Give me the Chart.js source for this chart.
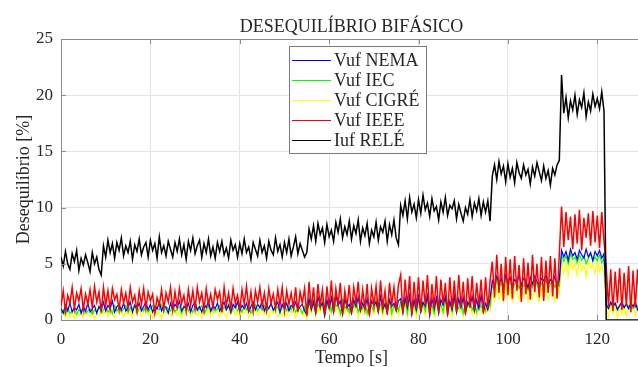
<!DOCTYPE html>
<html>
<head>
<meta charset="utf-8">
<script src="https://cdn.jsdelivr.net/npm/chart.js@4/dist/chart.umd.min.js"></script>
<style>
  html, body { margin: 0; padding: 0; background: #fff; overflow: hidden; }
  canvas { display: block; }
</style>
</head>
<body>
<canvas id="chart" width="642" height="367"></canvas>
<script>
// amostragem de 0,5 s, de 0 a 130 s (10 valores por linha = 5 s)
const STEP = 0.5;
const X_MAX = 130;
const xTicks = [0, 20, 40, 60, 80, 100, 120];
const yTicks = [0, 5, 10, 15, 20, 25];
const labels = ['Vuf NEMA', 'Vuf IEC', 'Vuf CIGRÉ', 'Vuf IEEE', 'Iuf RELÉ'];

const vufNema = [
  1.0, 0.6, 1.3, 0.8, 1.5, 0.7, 1.1, 0.9, 1.4, 0.6,
  1.2, 0.8, 1.5, 0.7, 1.0, 1.3, 0.6, 1.2, 0.9, 1.6,
  0.8, 1.3, 1.0, 1.7, 0.7, 1.2, 1.4, 0.9, 1.5, 0.8,
  1.1, 1.6, 0.7, 1.3, 1.0, 1.5, 0.8, 1.2, 1.6, 0.9,
  1.4, 0.7, 1.2, 1.0, 1.6, 0.8, 1.3, 1.1, 0.6, 1.5,
  0.9, 1.4, 1.1, 1.7, 0.8, 1.2, 1.0, 1.5, 0.7, 1.3,
  1.6, 0.9, 1.2, 0.7, 1.4, 1.1, 1.7, 0.8, 1.3, 1.0,
  1.5, 0.8, 1.2, 1.6, 0.9, 1.3, 0.7, 1.4, 1.1, 1.6,
  0.8, 1.3, 1.0, 1.5, 0.7, 1.2, 1.6, 0.9, 1.4, 1.1,
  1.7, 0.8, 1.3, 1.0, 1.5, 0.9, 1.2, 1.6, 0.7, 1.4,
  1.0, 1.5, 0.8, 1.3, 1.1, 1.6, 0.9, 1.2, 1.4, 0.8,
  0.5, 1.9, 0.9, 1.6, 0.6, 2.1, 1.2, 1.5, 0.4, 1.8,
  1.0, 2.0, 0.7, 2.2, 1.3, 1.7, 0.5, 1.9, 1.1, 1.4,
  0.6, 1.8, 1.2, 2.0, 0.8, 1.5, 1.0, 1.9, 0.5, 1.7,
  1.3, 1.6, 0.7, 2.1, 1.0, 1.4, 0.6, 1.8, 1.2, 1.5,
  0.8, 1.7, 1.9, 0.6, 2.0, 1.1, 2.2, 0.5, 1.8, 0.9,
  2.1, 0.7, 1.6, 1.2, 2.2, 0.4, 1.9, 1.0, 2.0, 0.6,
  1.8, 1.3, 2.1, 0.5, 1.7, 0.9, 2.2, 0.7, 1.9, 1.1,
  2.0, 0.6, 1.6, 1.2, 2.1, 0.8, 1.8, 1.0, 2.2, 0.7,
  1.5, 0.9, 1.9, 3.5, 3.0, 3.9, 3.2, 3.7, 2.9, 4.0,
  3.3, 3.8, 3.0, 3.6, 3.4, 4.0, 3.1, 3.7, 3.5, 2.9,
  3.8, 3.2, 3.9, 3.4, 3.0, 3.7, 3.5, 4.0, 3.1, 3.6,
  3.3, 3.9, 3.0, 3.6, 6.2, 5.6, 6.1, 5.3, 6.3, 5.7,
  6.0, 5.4, 6.2, 5.8, 5.5, 6.3, 5.6, 6.0, 5.3, 6.1,
  5.7, 6.2, 5.5, 5.9, 1.4, 1.0, 1.6, 1.2, 1.5, 0.9,
  1.3, 1.6, 1.1, 1.4, 1.0, 1.5, 1.2, 1.6, 0.9, 1.3,
  1.4
];

const vufIec = [
  0.7, 0.9, 0.5, 1.1, 0.6, 0.8, 1.0, 0.5, 0.9, 0.7,
  1.1, 0.6, 0.8, 1.0, 0.5, 0.9, 0.7, 1.2, 0.6, 0.9,
  1.2, 0.7, 1.0, 0.6, 1.3, 0.8, 1.1, 0.7, 1.0, 1.3,
  0.7, 1.1, 0.9, 1.4, 0.6, 1.0, 1.2, 0.8, 1.3, 0.7,
  1.0, 1.3, 0.6, 1.1, 0.9, 1.4, 0.7, 1.2, 1.0, 0.8,
  1.3, 0.7, 1.0, 1.2, 0.6, 1.1, 1.4, 0.8, 1.0, 0.7,
  1.2, 0.8, 1.0, 1.3, 0.6, 0.9, 1.4, 0.7, 1.1, 0.8,
  1.0, 1.3, 0.7, 1.2, 0.9, 1.4, 0.6, 1.0, 1.3, 0.8,
  1.1, 0.7, 1.3, 0.9, 1.2, 0.6, 1.0, 1.4, 0.8, 1.2,
  0.9, 1.3, 0.7, 1.1, 1.4, 0.8, 1.0, 1.2, 0.6, 1.1,
  1.3, 0.8, 1.2, 0.9, 1.4, 0.7, 1.1, 1.0, 0.6, 1.2,
  0.4, 1.5, 1.1, 1.9, 0.7, 1.4, 1.0, 1.8, 0.6, 1.3,
  1.7, 0.8, 1.9, 1.2, 1.5, 0.6, 1.8, 1.0, 1.4, 0.7,
  1.6, 1.1, 1.8, 0.7, 1.3, 1.0, 1.7, 0.6, 1.5, 1.2,
  0.8, 1.9, 1.1, 1.4, 0.7, 1.6, 1.2, 1.8, 0.6, 1.3,
  1.5, 0.8, 1.6, 1.0, 1.8, 0.6, 1.9, 1.2, 1.4, 0.7,
  1.7, 1.1, 1.5, 0.8, 1.9, 1.0, 1.3, 0.6, 1.8, 1.2,
  1.4, 0.7, 1.9, 1.1, 1.5, 0.8, 1.7, 1.3, 1.0, 1.8,
  0.6, 1.6, 1.2, 1.9, 0.9, 1.4, 0.7, 1.8, 1.1, 1.5,
  0.8, 1.7, 1.2, 3.1, 2.7, 3.5, 2.9, 3.3, 2.6, 3.6,
  3.0, 3.4, 2.7, 3.2, 3.5, 2.8, 3.3, 3.0, 3.6, 2.6,
  3.4, 2.9, 3.5, 3.1, 2.7, 3.3, 3.0, 3.6, 2.8, 3.2,
  3.5, 2.9, 3.3, 3.0, 5.8, 5.2, 5.7, 5.0, 5.9, 5.4,
  5.6, 5.1, 5.8, 5.3, 5.7, 5.0, 5.5, 5.9, 5.2, 5.6,
  5.3, 5.8, 5.1, 5.5, 1.3, 1.1, 1.4, 1.2, 1.5, 1.0,
  1.3, 1.4, 1.1, 1.5, 1.2, 1.3, 1.0, 1.4, 1.2, 1.5,
  1.3
];

const vufCigre = [
  0.4, 0.7, 0.2, 0.9, 0.3, 0.6, 0.1, 0.8, 0.4, 0.6,
  0.2, 0.9, 0.5, 0.3, 0.8, 0.1, 0.6, 0.4, 0.9, 0.5,
  0.9, 0.3, 1.1, 0.5, 0.2, 0.8, 0.6, 1.0, 0.3, 0.7,
  0.5, 1.0, 0.2, 0.8, 0.6, 1.1, 0.3, 0.7, 0.9, 0.4,
  0.8, 0.2, 1.0, 0.5, 0.7, 0.1, 0.9, 0.6, 1.1, 0.3,
  0.7, 1.0, 0.4, 0.8, 0.2, 0.9, 0.6, 1.1, 0.3, 0.7,
  1.0, 0.4, 0.8, 0.2, 0.9, 0.5, 1.1, 0.3, 0.7, 0.6,
  0.9, 0.3, 1.0, 0.6, 0.2, 0.8, 0.5, 1.1, 0.4, 0.7,
  0.3, 0.9, 0.6, 1.0, 0.2, 0.8, 0.5, 1.1, 0.4, 0.7,
  1.0, 0.5, 0.8, 0.2, 0.9, 0.6, 1.1, 0.3, 0.7, 0.4,
  0.8, 0.3, 1.0, 0.6, 0.9, 0.2, 0.7, 1.1, 0.4, 0.8,
  0.1, 1.2, 0.6, 1.5, 0.3, 1.0, 0.7, 1.4, 0.2, 1.1,
  1.3, 0.5, 1.5, 0.8, 1.1, 0.3, 1.4, 0.6, 1.2, 0.4,
  1.0, 0.7, 1.4, 0.2, 1.2, 0.6, 1.5, 0.4, 0.9, 1.3,
  0.5, 1.4, 0.8, 1.1, 0.3, 1.3, 0.7, 1.5, 0.2, 1.0,
  1.2, 0.4, 1.3, 0.6, 1.5, 0.3, 1.4, 0.8, 1.1, 0.2,
  1.5, 0.7, 1.2, 0.4, 1.4, 0.5, 1.0, 0.3, 1.5, 0.8,
  1.1, 0.4, 1.4, 0.6, 1.3, 0.2, 1.5, 0.9, 0.7, 1.2,
  0.3, 1.4, 0.8, 1.5, 0.5, 1.1, 0.4, 1.3, 0.7, 1.2,
  0.5, 1.3, 0.8, 2.4, 1.7, 2.9, 1.9, 2.6, 1.6, 3.0,
  2.0, 2.7, 1.6, 2.5, 2.8, 1.8, 2.6, 2.1, 3.0, 1.7,
  2.6, 1.9, 2.8, 2.2, 1.6, 2.7, 2.0, 2.9, 1.8, 2.5,
  2.8, 1.7, 2.6, 2.3, 5.3, 4.2, 5.0, 3.9, 5.4, 4.5,
  5.1, 4.0, 5.3, 4.4, 4.9, 3.8, 5.2, 4.6, 5.0, 4.1,
  5.4, 4.3, 4.9, 4.0, 1.0, 0.3, 1.3, 0.6, 1.4, 0.2,
  1.1, 0.5, 1.4, 0.3, 1.2, 0.7, 1.5, 0.4, 1.0, 0.6,
  1.2
];

const vufIeee = [
  1.2, 2.6, 0.8, 2.2, 1.5, 2.9, 1.0, 2.4, 1.7, 2.8,
  0.9, 2.3, 1.4, 2.7, 1.1, 3.0, 1.6, 2.5, 0.7, 2.9,
  1.3, 2.6, 1.0, 2.8, 1.8, 2.3, 0.9, 2.7, 1.5, 2.4,
  1.1, 2.9, 1.6, 2.2, 0.8, 2.6, 1.4, 2.8, 1.0, 2.5,
  1.7, 2.3, 0.6, 2.0, 1.3, 2.7, 1.0, 2.4, 1.6, 2.9,
  0.9, 2.5, 1.2, 2.8, 1.5, 2.2, 0.8, 2.7, 1.3, 2.6,
  1.0, 2.9, 1.6, 2.4, 0.9, 2.8, 1.4, 2.3, 1.1, 2.7,
  1.8, 2.5, 0.7, 2.9, 1.3, 2.4, 1.0, 2.8, 1.5, 2.2,
  0.9, 2.7, 1.4, 3.0, 1.1, 2.5, 0.8, 2.6, 1.6, 2.9,
  1.2, 2.4, 0.9, 2.8, 1.5, 2.3, 1.0, 2.7, 1.3, 2.9,
  0.8, 2.6, 1.4, 2.4, 1.1, 2.9, 0.7, 2.5, 1.5, 2.8,
  0.4, 3.4, 1.0, 2.9, 0.6, 3.2, 1.3, 2.7, 0.5, 3.0,
  1.1, 3.5, 0.7, 2.8, 1.4, 3.3, 0.5, 2.6, 1.2, 3.1,
  0.6, 2.9, 1.5, 3.4, 0.8, 2.7, 1.0, 3.2, 0.4, 2.8,
  1.3, 3.0, 0.7, 3.5, 1.1, 2.6, 0.5, 3.3, 1.4, 2.9,
  0.8, 3.1, 4.0, 0.6, 3.6, 1.2, 3.9, 0.4, 3.4, 1.0,
  3.8, 0.7, 3.5, 1.3, 4.0, 0.5, 3.2, 1.1, 3.9, 0.6,
  3.6, 1.4, 3.3, 0.4, 3.8, 1.0, 3.5, 0.7, 4.0, 1.2,
  3.4, 0.5, 3.7, 1.1, 3.9, 0.8, 3.3, 1.3, 3.6, 0.6,
  3.8, 1.0, 3.5, 5.2, 2.0, 5.8, 2.4, 5.0, 1.7, 5.6,
  2.2, 5.4, 1.9, 5.7, 2.6, 4.9, 1.6, 5.5, 2.3, 5.1,
  1.8, 5.8, 2.5, 5.0, 2.0, 5.6, 1.7, 5.3, 2.4, 5.7,
  2.1, 5.5, 1.9, 5.9, 10.1, 6.5, 9.6, 7.1, 9.2, 6.3,
  9.4, 6.8, 9.8, 6.2, 9.1, 7.3, 9.5, 6.6, 9.7, 6.9,
  9.3, 6.4, 9.6, 7.0, 4.7, 1.2, 4.5, 0.8, 4.3, 1.5,
  4.6, 0.9, 4.2, 1.3, 4.8, 0.7, 4.4, 1.1, 4.5, 1.4,
  4.1
];

const iufRele = [
  5.6, 4.8, 6.1, 5.0, 4.5, 5.9, 5.2, 6.2, 4.4, 5.5,
  4.9, 5.8, 5.1, 4.3, 6.0, 5.0, 5.6, 4.5, 4.0, 6.6,
  5.6, 7.1, 6.0, 6.8, 5.5, 6.9, 6.2, 7.3, 5.7, 6.6,
  6.0, 7.0, 5.4, 6.7, 6.1, 7.2, 5.8, 6.5, 6.9, 5.6,
  7.1, 6.2, 6.8, 5.5, 7.4, 6.0, 6.6, 5.7, 7.0, 6.3,
  5.6, 6.9, 6.1, 7.2, 5.8, 6.7, 5.4, 7.0, 6.2, 7.3,
  5.9, 6.6, 7.1, 5.6, 6.8, 6.0, 7.2, 5.7, 6.5, 5.5,
  6.9, 6.1, 7.0, 5.8, 6.4, 5.5, 7.1, 6.2, 6.7, 5.6,
  6.8, 5.9, 7.2, 6.0, 6.5, 5.4, 6.9, 6.3, 5.7, 7.1,
  6.0, 6.6, 5.5, 7.0, 6.2, 5.8, 7.3, 6.1, 6.7, 5.6,
  6.9, 6.0, 7.2, 5.7, 6.5, 7.4, 5.9, 6.8, 6.2, 5.6,
  6.0, 8.1, 7.2, 8.4, 7.0, 8.6, 7.6, 8.2, 6.9, 8.5,
  7.4, 8.0, 7.0, 8.7, 7.8, 9.0, 7.3, 8.3, 7.6, 8.8,
  7.2, 8.4, 7.7, 8.9, 7.0, 8.2, 7.5, 8.6, 6.8, 8.0,
  7.4, 8.7, 7.1, 8.3, 7.8, 8.8, 7.0, 8.5, 7.6, 8.9,
  7.3, 6.7, 10.2, 9.3, 10.6, 9.0, 10.9, 9.6, 10.3, 9.1,
  10.7, 9.5, 11.1, 9.8, 10.4, 9.2, 10.8, 9.7, 10.1, 8.9,
  10.5, 9.6, 10.9, 9.3, 10.2, 9.9, 10.6, 9.0, 10.3, 9.5,
  8.8, 10.0, 9.4, 10.7, 9.2, 10.4, 9.7, 10.8, 9.3, 10.5,
  9.6, 10.6, 8.8, 12.8, 13.8, 12.5, 14.1, 13.0, 13.7, 12.3,
  13.9, 12.7, 13.5, 12.2, 14.0, 13.1, 12.6, 13.8, 12.9, 13.4,
  12.1, 13.6, 12.8, 14.0, 13.2, 12.4, 13.7, 12.6, 13.3, 12.0,
  13.5, 12.9, 13.8, 14.2, 21.8, 18.4, 19.8, 18.0, 19.5, 18.7,
  20.0, 18.3, 19.6, 18.9, 20.2, 18.1, 19.4, 18.6, 20.1, 19.0,
  19.7, 18.8, 20.3, 18.6, 0, 0, 0, 0, 0, 0,
  0, 0, 0, 0, 0, 0, 0, 0, 0, 0,
  0
];

const tempo = iufRele.map((_, i) => i * STEP);
const toPoints = (values) => values.map((v, i) => ({ x: tempo[i], y: v }));

const FONT = 'Liberation Serif, Times New Roman, serif';
const TEXT = '#262626';
const AXIS = '#8a8a8a';

// moldura superior, marcas de escala internas e legenda (estilo MATLAB)
const framePlugin = {
    id: 'frame',
    afterDraw(chart) {
        const { ctx, chartArea: a, scales } = chart;
        ctx.save();
        ctx.strokeStyle = AXIS;
        ctx.lineWidth = 1;
        ctx.beginPath();
        ctx.moveTo(a.left, Math.round(a.top) + 0.5);
        ctx.lineTo(a.right, Math.round(a.top) + 0.5);
        xTicks.forEach((t) => {
            const px = Math.round(scales.x.getPixelForValue(t)) + 0.5;
            ctx.moveTo(px, a.bottom);
            ctx.lineTo(px, a.bottom - 5);
            ctx.moveTo(px, a.top);
            ctx.lineTo(px, a.top + 5);
        });
        yTicks.forEach((t) => {
            const py = Math.round(scales.y.getPixelForValue(t)) + 0.5;
            ctx.moveTo(a.left, py);
            ctx.lineTo(a.left + 5, py);
        });
        ctx.stroke();

        // legenda
        const lx = 289.5, ly = 46.5, lw = 137, lh = 107;
        ctx.fillStyle = '#fff';
        ctx.fillRect(lx, ly, lw, lh);
        ctx.strokeStyle = '#7a7a7a';
        ctx.strokeRect(lx, ly, lw, lh);
        ctx.font = '18px ' + FONT;
        ctx.textBaseline = 'middle';
        ctx.textAlign = 'left';
        ctx.lineWidth = 1;
        chart.data.datasets.forEach((ds, i) => {
            const y = 60 + i * 20;
            ctx.strokeStyle = ds.borderColor;
            ctx.beginPath();
            ctx.moveTo(292, y + 0.5);
            ctx.lineTo(331, y + 0.5);
            ctx.stroke();
            ctx.fillStyle = TEXT;
            ctx.fillText(ds.label, 334, y + 1);
        });
        ctx.restore();
    }
};

const series = [vufNema, vufIec, vufCigre, vufIeee, iufRele];
const colors = ['#0000ff', '#00ff00', '#ffff00', '#ff0000', '#000000'];
const widths = [1.2, 1.2, 1.2, 1.5, 1.5];
// maior = desenhado antes (por baixo)
const drawOrder = [3, 4, 5, 2, 1];

const ctx = document.getElementById('chart').getContext('2d');
// eslint-disable-next-line no-undef
new Chart(ctx, {
    type: 'line',
    data: {
        datasets: series.map((s, i) => ({
            label: labels[i],
            data: toPoints(s),
            borderColor: colors[i],
            borderWidth: widths[i],
            pointRadius: 0,
            tension: 0,
            fill: false,
            order: drawOrder[i]
        }))
    },
    options: {
        responsive: false,
        animation: false,
        events: [],
        layout: { padding: 0 },
        plugins: {
            legend: { display: false },
            tooltip: { enabled: false },
            title: {
                display: true,
                text: 'DESEQUILÍBRIO BIFÁSICO',
                fullSize: false,
                color: TEXT,
                font: { family: FONT, size: 18, weight: 'normal', lineHeight: 1.2 },
                padding: { top: 16, bottom: 1.4 }
            }
        },
        scales: {
            x: {
                type: 'linear',
                min: xTicks[0],
                max: X_MAX,
                afterFit: (scale) => { scale.height = 47; },
                ticks: {
                    stepSize: xTicks[1] - xTicks[0],
                    includeBounds: false,
                    maxRotation: 0,
                    padding: 9,
                    color: TEXT,
                    font: { family: FONT, size: 17 }
                },
                grid: { color: '#e4e4e4', drawTicks: false },
                border: { color: AXIS },
                title: {
                    display: true,
                    text: 'Tempo [s]',
                    color: TEXT,
                    font: { family: FONT, size: 18, lineHeight: 1 },
                    padding: 0
                }
            },
            y: {
                min: yTicks[0],
                max: yTicks[yTicks.length - 1],
                afterFit: (scale) => { scale.width = 61; },
                ticks: {
                    stepSize: yTicks[1] - yTicks[0],
                    padding: 8,
                    color: TEXT,
                    font: { family: FONT, size: 17 }
                },
                grid: { color: '#e4e4e4', drawTicks: false },
                border: { color: AXIS },
                title: {
                    display: true,
                    text: 'Desequilíbrio [%]',
                    color: TEXT,
                    font: { family: FONT, size: 18, lineHeight: 1.2 },
                    padding: { top: 13, bottom: 0 }
                }
            }
        }
    },
    plugins: [framePlugin]
});
</script>
</body>
</html>
